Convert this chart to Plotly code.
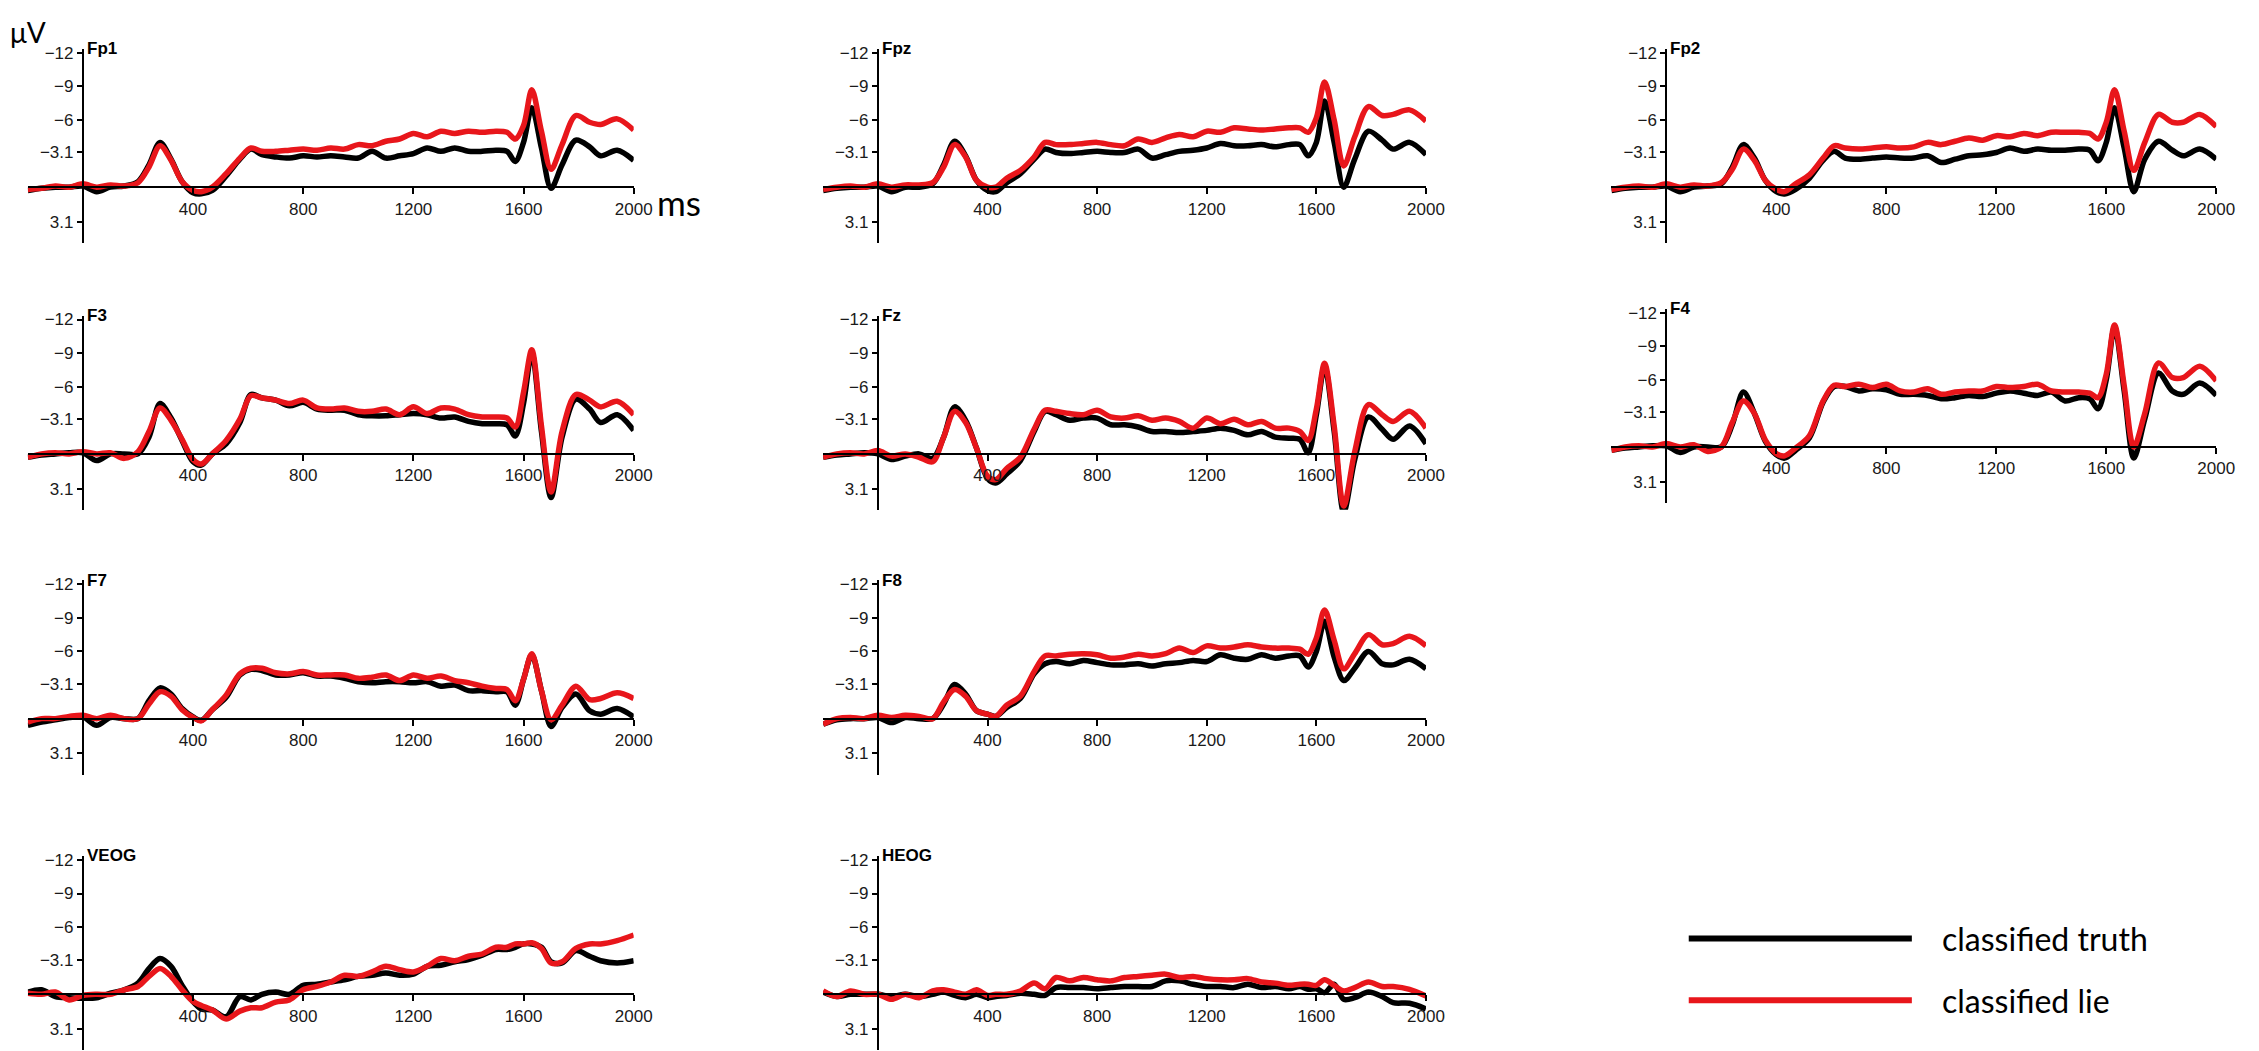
import plotly.graph_objects as go

W, H = 2259, 1051

# time axis (ms), shared by every panel
TIME_MS = [-200, -150, -100, -50, 0, 50, 100, 150, 200, 240, 280, 320, 360, 400, 430,
           470, 520, 570, 610, 650, 700, 750, 800, 850, 900, 950, 1000, 1050, 1100, 1150,
           1200, 1250, 1300, 1350, 1400, 1450, 1500, 1540, 1570, 1600, 1630, 1665, 1700,
           1740, 1790, 1840, 1880, 1940, 2000]

CHANNELS = ["Fp1", "Fpz", "Fp2", "F3", "Fz", "F4", "F7", "F8", "VEOG", "HEOG"]

# amplitudes in µV (negative plotted up)
FP1_TRUTH = [0.3, 0.1, 0.0, 0.0, -0.1, 0.4, 0.0, -0.1, -0.5, -2.0, -4.0, -2.5, -0.5, 0.5, 0.6,
             0.3, -1.0, -2.5, -3.4, -2.9, -2.7, -2.6, -2.8, -2.7, -2.8, -2.7, -2.6, -3.2, -2.6, -2.8,
             -3.0, -3.5, -3.2, -3.5, -3.2, -3.2, -3.3, -3.2, -2.3, -4.0, -7.1, -3.5, 0.1,
             -2.0, -4.2, -3.6, -2.8, -3.3, -2.4]
FP1_LIE = [0.2, 0.1, -0.1, 0.0, -0.3, 0.0, -0.2, -0.1, -0.4, -1.8, -3.7, -2.4, -0.5, 0.3, 0.4,
           0.0, -1.2, -2.6, -3.5, -3.2, -3.2, -3.3, -3.4, -3.3, -3.5, -3.4, -3.8, -3.7, -4.1, -4.3,
           -4.8, -4.5, -5.0, -4.8, -5.0, -4.9, -5.0, -4.9, -4.3, -5.5, -8.7, -5.0, -1.6,
           -3.8, -6.4, -5.8, -5.6, -6.1, -5.1]
FPZ_TRUTH = [0.3, 0.1, 0.0, 0.0, -0.1, 0.4, 0.0, 0.0, -0.3, -2.0, -4.1, -2.8, -0.6, 0.3, 0.4,
             -0.4, -1.2, -2.5, -3.4, -3.1, -3.0, -3.1, -3.2, -3.1, -3.1, -3.4, -2.6, -2.9, -3.2, -3.3,
             -3.5, -3.9, -3.7, -3.7, -3.8, -3.6, -3.8, -3.8, -2.8, -4.0, -7.7, -4.0, 0.0,
             -2.5, -5.0, -4.2, -3.4, -4.0, -2.9]
FPZ_LIE = [0.2, 0.0, -0.1, 0.0, -0.3, 0.0, -0.2, -0.2, -0.4, -1.8, -3.8, -2.7, -0.6, 0.0, 0.0,
           -0.8, -1.5, -2.7, -4.0, -3.8, -3.8, -3.9, -4.0, -3.8, -3.7, -4.3, -4.0, -4.4, -4.7, -4.5,
           -5.0, -4.9, -5.3, -5.2, -5.1, -5.2, -5.3, -5.3, -4.9, -6.2, -9.4, -6.0, -1.9,
           -4.5, -7.2, -6.4, -6.5, -6.9, -5.9]
FP2_TRUTH = [0.3, 0.1, 0.0, 0.0, -0.1, 0.4, 0.0, -0.1, -0.3, -1.8, -3.8, -2.6, -0.6, 0.4, 0.6,
             0.2, -0.8, -2.4, -3.2, -2.6, -2.5, -2.6, -2.7, -2.6, -2.6, -2.8, -2.2, -2.5, -2.8, -2.9,
             -3.1, -3.5, -3.2, -3.4, -3.3, -3.3, -3.4, -3.3, -2.35, -4.0, -7.1, -3.5, 0.4,
             -2.5, -4.1, -3.3, -2.8, -3.4, -2.5]
FP2_LIE = [0.2, 0.0, -0.1, 0.0, -0.3, 0.0, -0.2, -0.1, -0.4, -1.6, -3.4, -2.4, -0.6, 0.2, 0.4,
           -0.3, -1.1, -2.6, -3.7, -3.5, -3.4, -3.5, -3.6, -3.5, -3.6, -4.0, -3.8, -4.1, -4.4, -4.2,
           -4.6, -4.5, -4.8, -4.6, -4.9, -4.9, -4.9, -4.8, -4.3, -5.8, -8.7, -5.0, -1.5,
           -4.0, -6.5, -5.8, -5.8, -6.5, -5.4]
F3_TRUTH = [0.3, 0.1, 0.0, -0.1, -0.1, 0.6, 0.0, 0.0, 0.0, -1.5, -4.5, -3.2, -1.2, 0.7, 1.0,
            0.0, -0.9, -2.8, -5.3, -5.0, -4.8, -4.3, -4.6, -4.0, -3.9, -3.9, -3.5, -3.4, -3.4, -3.5,
            -3.6, -3.5, -3.2, -3.3, -2.9, -2.7, -2.7, -2.6, -1.6, -4.5, -9.0, -2.0, 3.9,
            -1.5, -4.9, -4.0, -2.8, -3.5, -2.1]
F3_LIE = [0.3, 0.0, -0.1, 0.0, -0.2, 0.0, -0.1, 0.4, -0.2, -2.0, -4.1, -3.0, -1.3, 0.5, 0.9,
          0.0, -1.2, -3.1, -5.2, -5.0, -4.8, -4.5, -4.8, -4.1, -4.0, -4.1, -3.8, -3.8, -4.0, -3.5,
          -4.2, -3.6, -4.1, -4.0, -3.5, -3.3, -3.3, -3.2, -2.4, -5.5, -9.3, -2.5, 3.4,
          -2.0, -5.3, -4.8, -4.2, -4.7, -3.5]
FZ_TRUTH = [0.3, 0.1, 0.0, -0.1, 0.0, 0.5, 0.2, 0.0, 0.4, -1.5, -4.2, -3.0, -0.5, 2.2, 2.6,
            1.8, 0.6, -2.0, -3.8, -3.5, -3.0, -3.2, -3.2, -2.6, -2.6, -2.4, -2.0, -2.0, -1.9, -2.0,
            -2.1, -2.3, -2.1, -1.7, -2.0, -1.5, -1.4, -1.3, -0.1, -3.5, -7.8, -2.0, 5.2,
            0.5, -3.3, -2.2, -1.3, -2.5, -0.9]
FZ_LIE = [0.3, 0.0, -0.1, 0.0, -0.3, 0.2, 0.0, 0.3, 0.7, -1.5, -3.8, -2.8, -0.5, 2.0, 2.3,
          1.3, 0.3, -2.2, -3.9, -3.8, -3.6, -3.5, -3.9, -3.3, -3.2, -3.4, -3.0, -3.2, -2.9, -2.3,
          -3.2, -2.7, -3.1, -2.6, -2.9, -2.3, -2.3, -2.0, -1.2, -4.0, -8.1, -2.5, 4.65,
          -0.2, -4.4, -3.5, -2.9, -3.8, -2.3]
F4_TRUTH = [0.3, 0.1, 0.0, -0.1, -0.1, 0.5, 0.0, 0.0, 0.0, -2.0, -4.9, -3.0, -0.5, 0.7, 1.0,
            0.3, -0.8, -4.0, -5.4, -5.4, -5.0, -5.2, -5.1, -4.7, -4.7, -4.6, -4.3, -4.4, -4.6, -4.5,
            -4.8, -5.0, -4.8, -4.6, -4.9, -4.1, -4.4, -4.3, -3.4, -6.0, -10.7, -5.0, 1.0,
            -2.5, -6.6, -5.0, -4.7, -5.7, -4.6]
F4_LIE = [0.3, 0.0, -0.1, 0.0, -0.3, 0.0, -0.2, 0.4, 0.0, -2.2, -4.1, -3.0, -0.6, 0.6, 0.8,
          0.1, -1.0, -4.1, -5.5, -5.4, -5.6, -5.3, -5.6, -5.0, -4.9, -5.2, -4.7, -4.9, -5.0, -5.0,
          -5.4, -5.3, -5.4, -5.6, -5.0, -4.9, -4.9, -4.8, -4.4, -6.5, -10.9, -5.5, 0.0,
          -3.0, -7.5, -6.2, -6.2, -7.2, -5.9]
F7_TRUTH = [0.6, 0.3, 0.1, -0.1, -0.15, 0.6, -0.1, 0.0, 0.0, -1.6, -2.75, -2.2, -0.9, -0.15, 0.15,
            -0.8, -1.9, -3.9, -4.4, -4.3, -3.9, -3.9, -4.1, -3.8, -3.8, -3.6, -3.3, -3.2, -3.3, -3.3,
            -3.2, -3.3, -2.9, -3.0, -2.5, -2.5, -2.4, -2.4, -1.2, -3.5, -5.7, -2.5, 0.7,
            -1.0, -2.2, -0.7, -0.4, -0.9, -0.15]
F7_LIE = [0.3, 0.0, 0.0, -0.2, -0.3, 0.0, -0.3, 0.0, 0.0, -1.3, -2.4, -2.0, -0.8, -0.1, 0.2,
          -0.8, -2.1, -4.0, -4.5, -4.5, -4.1, -4.0, -4.2, -3.9, -3.9, -3.9, -3.6, -3.7, -3.9, -3.4,
          -3.9, -3.6, -3.8, -3.4, -3.2, -2.9, -2.7, -2.6, -1.6, -3.5, -5.8, -2.5, 0.1,
          -1.2, -2.9, -1.7, -1.8, -2.3, -1.8]
F8_TRUTH = [0.5, 0.1, 0.0, 0.0, -0.1, 0.35, -0.1, 0.0, 0.0, -1.3, -3.05, -2.2, -0.7, -0.4, -0.2,
            -1.0, -1.8, -4.0, -4.9, -5.1, -4.9, -5.2, -5.0, -4.8, -4.8, -4.9, -4.7, -4.9, -5.0, -5.2,
            -5.1, -5.7, -5.4, -5.3, -5.7, -5.4, -5.6, -5.6, -4.6, -6.0, -8.7, -5.5, -3.4,
            -4.5, -6.0, -4.9, -4.8, -5.3, -4.45]
F8_LIE = [0.5, 0.0, -0.1, 0.0, -0.3, -0.1, -0.3, -0.2, 0.0, -1.5, -2.6, -2.0, -0.7, -0.4, -0.2,
          -1.2, -2.0, -4.2, -5.6, -5.6, -5.75, -5.8, -5.7, -5.4, -5.5, -5.75, -5.6, -5.8, -6.3, -5.9,
          -6.5, -6.3, -6.4, -6.6, -6.4, -6.3, -6.3, -6.2, -5.75, -7.2, -9.7, -7.0, -4.45,
          -5.8, -7.5, -6.6, -6.7, -7.35, -6.5]
VEOG_TRUTH = [-0.2, -0.4, 0.2, 0.3, 0.35, 0.3, -0.1, -0.4, -1.0, -2.3, -3.2, -2.5, -0.8, 0.65, 1.3,
              1.4, 2.0, 0.2, 0.5, 0.0, -0.2, 0.0, -0.8, -0.9, -1.1, -1.3, -1.6, -1.7, -1.9, -1.7,
              -1.8, -2.5, -2.6, -2.9, -3.1, -3.5, -4.0, -4.0, -4.2, -4.5, -4.5, -4.2, -2.9,
              -2.8, -3.9, -3.4, -3.0, -2.8, -3.0]
VEOG_LIE = [-0.1, 0.0, -0.2, 0.5, 0.1, 0.0, 0.0, -0.4, -0.7, -1.6, -2.3, -1.6, -0.4, 0.65, 1.0,
            1.4, 2.2, 1.5, 1.2, 1.2, 0.7, 0.5, -0.4, -0.7, -1.1, -1.7, -1.6, -2.0, -2.5, -2.2,
            -2.0, -2.5, -3.2, -3.0, -3.4, -3.6, -4.2, -4.2, -4.5, -4.5, -4.6, -4.1, -2.8,
            -2.9, -4.1, -4.5, -4.5, -4.8, -5.3]
HEOG_TRUTH = [-0.2, 0.2, 0.0, 0.0, 0.0, 0.2, 0.0, 0.2, 0.0, -0.2, 0.1, 0.3, 0.0, 0.3, 0.2,
              0.1, -0.1, 0.0, 0.1, -0.6, -0.6, -0.6, -0.5, -0.6, -0.7, -0.7, -0.7, -1.2, -1.2, -0.9,
              -0.7, -0.7, -0.6, -0.9, -0.6, -0.7, -0.5, -0.7, -0.45, -0.5, -0.15, -0.9, 0.45,
              0.3, -0.2, 0.2, 0.75, 0.8, 1.3]
HEOG_LIE = [-0.3, 0.2, -0.3, 0.0, 0.0, 0.45, 0.0, 0.3, -0.3, -0.4, -0.2, 0.0, -0.4, 0.1, 0.0,
            0.0, -0.3, -1.0, -0.5, -1.5, -1.2, -1.5, -1.3, -1.2, -1.5, -1.6, -1.7, -1.8, -1.5, -1.6,
            -1.4, -1.3, -1.3, -1.4, -1.1, -1.0, -0.8, -0.9, -0.9, -0.8, -1.3, -0.8, -0.3,
            -0.6, -1.1, -0.7, -0.7, -0.45, 0.15]

TRUTH = [FP1_TRUTH, FPZ_TRUTH, FP2_TRUTH, F3_TRUTH, FZ_TRUTH, F4_TRUTH, F7_TRUTH, F8_TRUTH, VEOG_TRUTH, HEOG_TRUTH]
LIE = [FP1_LIE, FPZ_LIE, FP2_LIE, F3_LIE, FZ_LIE, F4_LIE, F7_LIE, F8_LIE, VEOG_LIE, HEOG_LIE]

Y_TICKS = [-12, -9, -6, -3.1, 3.1]
Y_TICK_LABELS = ["−12", "−9", "−6", "−3.1", "3.1"]
X_TICKS = [400, 800, 1200, 1600, 2000]
SERIES_NAMES = ["classified truth", "classified lie"]

# placement in pixels: panel column extents (t=-200 .. t=2000) and zero line per row
COL_X = [(20, 631), (822, 1430), (1617, 2227)]
ROW_ZERO = [175, 443, 709, 986]
GRID = [(0, 0), (1, 0), (2, 0), (0, 1), (1, 1), (2, 1), (0, 2), (1, 2), (0, 3), (1, 3)]
ZERO_OVERRIDE = {"F4": 436}
UNIT = 135 / 12.0
Y_MIN, Y_MAX = -12.35, 5.0

TICK_FONT = dict(family="Liberation Sans, Arial", size=17, color="#1a1a1a")

fig = go.Figure()
annotations = []

for i, ch in enumerate(CHANNELS):
    col, row = GRID[i]
    x0, x1 = COL_X[col]
    zero = ZERO_OVERRIDE.get(ch, ROW_ZERO[row])
    top = zero + Y_MIN * UNIT
    bottom = zero + Y_MAX * UNIT
    n = "" if i == 0 else str(i + 1)
    t0 = x0 + (x1 - x0) * 200 / 2200

    fig.add_trace(go.Scatter(x=TIME_MS, y=TRUTH[i], mode="lines", name=SERIES_NAMES[0],
                             line=dict(color="black", width=5.5, shape="spline", smoothing=0.9),
                             xaxis="x" + n, yaxis="y" + n, showlegend=False))
    fig.add_trace(go.Scatter(x=TIME_MS, y=LIE[i], mode="lines", name=SERIES_NAMES[1],
                             line=dict(color="#e8161b", width=5.5, shape="spline", smoothing=0.9),
                             xaxis="x" + n, yaxis="y" + n, showlegend=False))

    fig.update_layout(**{
        "xaxis" + n: dict(domain=[x0 / W, x1 / W], range=[-200, 2000], anchor="free",
                          position=1 - zero / H, showline=True, linecolor="black", linewidth=2,
                          ticks="outside", ticklen=6, tickwidth=2, tickcolor="black",
                          tickvals=X_TICKS, ticktext=[str(v) for v in X_TICKS],
                          tickfont=TICK_FONT, showgrid=False, zeroline=False),
        "yaxis" + n: dict(domain=[1 - bottom / H, 1 - top / H], range=[Y_MAX, Y_MIN],
                          anchor="free", position=t0 / W, showline=True, linecolor="black",
                          linewidth=2, ticks="outside", ticklen=5, tickwidth=2, tickcolor="black",
                          tickvals=Y_TICKS, ticktext=Y_TICK_LABELS, tickfont=TICK_FONT,
                          showgrid=False, zeroline=False),
    })
    annotations.append(dict(x=0, y=-12, xref="x" + n, yref="y" + n, text="<b>%s</b>" % ch,
                            showarrow=False, xanchor="left", yanchor="middle", xshift=2, yshift=4,
                            font=dict(family="Liberation Sans, Arial", size=17, color="black")))

annotations.append(dict(x=0, y=1, xref="paper", yref="paper", text="μV",
                        showarrow=False, xanchor="left", yanchor="top",
                        font=dict(family="Lato, Open Sans", size=28, color="black")))
annotations.append(dict(x=652 / W, y=1 - 190 / H, xref="paper", yref="paper", text="ms",
                        showarrow=False, xanchor="left", yanchor="middle",
                        font=dict(family="Lato, Open Sans", size=35, color="black")))

# legend drawn by hand to get the long line samples
shapes = []
for k, (color, ypx) in enumerate([("black", 930), ("#e8161b", 992)]):
    shapes.append(dict(type="line", xref="paper", yref="paper", x0=1695 / W, x1=1920 / W,
                       y0=1 - ypx / H, y1=1 - ypx / H, line=dict(color=color, width=6)))
    annotations.append(dict(x=1948 / W, y=1 - ypx / H, xref="paper", yref="paper",
                            text=SERIES_NAMES[k], showarrow=False, xanchor="left", yanchor="middle",
                            font=dict(family="Lato, Open Sans", size=32, color="black")))

fig.update_layout(width=W, height=H, margin=dict(l=0, r=0, t=0, b=0),
                  plot_bgcolor="white", paper_bgcolor="white", showlegend=False,
                  annotations=annotations, shapes=shapes)

fig.write_html("out.html")
